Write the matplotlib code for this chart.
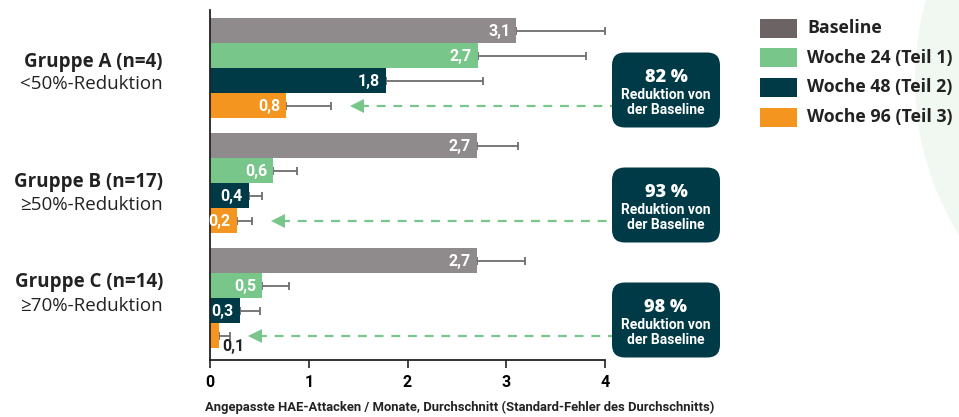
import numpy as np
import matplotlib
matplotlib.use("Agg")
import matplotlib.pyplot as plt
from matplotlib.patches import FancyBboxPatch, Circle
from matplotlib.transforms import IdentityTransform

# data
groups = ["Gruppe A (n=4)", "Gruppe B (n=17)", "Gruppe C (n=14)"]
subtitles = ["<50%-Reduktion", "≥50%-Reduktion", "≥70%-Reduktion"]
series = ["Baseline", "Woche 24 (Teil 1)", "Woche 48 (Teil 2)", "Woche 96 (Teil 3)"]

baseline = [3.1, 2.7, 2.7]
week24 = [2.71, 0.64, 0.53]
week48 = [1.78, 0.39, 0.30]
week96 = [0.77, 0.27, 0.09]

baseline_se = [0.90, 0.42, 0.49]
week24_se = [1.10, 0.24, 0.27]
week48_se = [0.98, 0.14, 0.21]
week96_se = [0.46, 0.16, 0.11]

value_labels = [["3,1", "2,7", "1,8", "0,8"],
                ["2,7", "0,6", "0,4", "0,2"],
                ["2,7", "0,5", "0,3", "0,1"]]
reductions = ["82 %", "93 %", "98 %"]

bar_colors = ["#8f8a8b", "#79c68b", "#003a47", "#f4951f"]
legend_colors = ["#6b6364", "#79c68b", "#003a47", "#f4951f"]
box_color = "#003a47"

narrow = ["Liberation Sans Narrow", "Roboto", "DejaVu Sans"]
sans = ["Open Sans", "Lato", "DejaVu Sans"]

W, H = 959, 417
fig = plt.figure(figsize=(W / 100, H / 100), dpi=100)

# faint background circle on the right edge
fig.patches.append(Circle((1210, H - 80), 295, transform=IdentityTransform(),
                          facecolor="#f1f7f1", edgecolor="none", zorder=0))

ax = fig.add_axes([210 / W, 1 - 360 / H, 395 / W, 350 / H])
ax.patch.set_alpha(0)

step = 4.6
values = np.array([baseline, week24, week48, week96])
errors = np.array([baseline_se, week24_se, week48_se, week96_se])

for j in range(4):
    ys = np.arange(3) * step + j
    ax.barh(ys, values[j], height=1.0, color=bar_colors[j], zorder=2)
    ax.errorbar(values[j], ys, xerr=[np.zeros(3), errors[j]], fmt="none",
                ecolor="#6d6d6d", elinewidth=1.3, capsize=3, capthick=1.3, zorder=1)
    for i in range(3):
        lab = value_labels[i][j]
        if values[j][i] < 0.15:
            ax.text(values[j][i] + 0.03, ys[i] + 0.46, lab, ha="left", va="center",
                    color="#222222", fontsize=11.5, fontweight="bold", family=narrow)
        else:
            ax.text(values[j][i] - 0.06, ys[i] + 0.04, lab, ha="right", va="center",
                    color="white", fontsize=11.5, fontweight="bold", family=narrow, zorder=3)

ax.set_xlim(0, 4)
ax.set_ylim(13.18, -0.82)
ax.set_xticks([0, 1, 2, 3, 4])
ax.set_xticklabels(["0", "1", "2", "3", "4"], fontsize=11.5, fontweight="bold", family=narrow)
ax.set_yticks([])
ax.tick_params(axis="x", direction="out", length=6, width=1.2, color="#222222", pad=5)
for s in ["top", "right"]:
    ax.spines[s].set_visible(False)
for s in ["left", "bottom"]:
    ax.spines[s].set_color("#222222")
    ax.spines[s].set_linewidth(1.3)

fig.text(205 / W, 1 - 407 / H, "Angepasste HAE-Attacken / Monate, Durchschnitt (Standard-Fehler des Durchschnitts)",
         ha="left", va="center", fontsize=9.4, fontweight="bold", family=narrow, color="#222222")

# group labels on the left (pixel rows of title / subtitle)
label_rows = [(62, 84), (182, 205), (282, 306)]
for i in range(3):
    y1, y2 = label_rows[i]
    fig.text(163 / W, 1 - y1 / H, groups[i], ha="right", va="center",
             fontsize=13.5, fontweight="bold", family=sans, color="#222222")
    fig.text(163 / W, 1 - y2 / H, subtitles[i], ha="right", va="center",
             fontsize=13.5, fontweight="medium", family=sans, color="#222222")

# reduction boxes with dashed arrows
px_x = 395 / 4
px_y = 25.0
box_x0, box_x1 = (612 - 210) / px_x, (720 - 210) / px_x
for i in range(3):
    ytop = i * step + 0.88
    ybot = i * step + 3.88
    box = FancyBboxPatch((box_x0, ytop), box_x1 - box_x0, ybot - ytop,
                         boxstyle="round,pad=0,rounding_size=0.13",
                         mutation_aspect=px_x / px_y,
                         facecolor=box_color, edgecolor="none", clip_on=False, zorder=3)
    ax.add_patch(box)
    xc = (box_x0 + box_x1) / 2
    ax.text(xc, ytop + 1.0, reductions[i], ha="center", va="center", color="white",
            fontsize=13, fontweight="heavy", family=sans, clip_on=False, zorder=4)
    ax.text(xc, ytop + 2.0, "Reduktion von\nder Baseline", ha="center", va="center",
            color="white", fontsize=10, fontweight="bold", family=narrow,
            linespacing=1.1, clip_on=False, zorder=4)
    # arrow
    ya = i * step + 3
    tip = week96[i] + week96_se[i] + 0.17
    ax.plot([tip + 0.12, box_x0], [ya, ya], color="#79c68b", lw=1.6,
            dashes=(4, 3.5), clip_on=False, zorder=2)
    ax.plot([tip + 0.09], [ya], marker="<", markersize=10, color="#79c68b",
            markeredgewidth=0, clip_on=False, zorder=2)

# legend
for k in range(4):
    yc = 28 + 29.7 * k
    fig.patches.append(FancyBboxPatch((760, H - yc - 9.5), 37, 19, boxstyle="square,pad=0",
                                      transform=IdentityTransform(),
                                      facecolor=legend_colors[k], edgecolor="none"))
    fig.text(807 / W, 1 - yc / H, series[k], ha="left", va="center", fontsize=12.8,
             fontweight="bold", family=sans, color="#222222")

fig.savefig("out.png", dpi=100)
